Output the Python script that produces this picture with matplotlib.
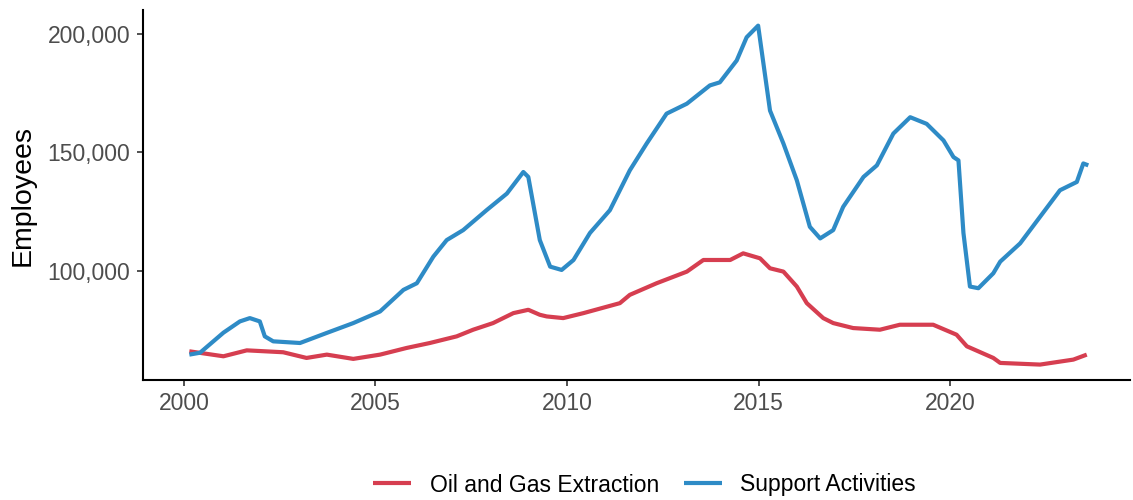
import matplotlib.pyplot as plt
from matplotlib.ticker import FuncFormatter

# values
support_years = [2000.14, 2000.42, 2001.03, 2001.46, 2001.72, 2001.98, 2002.11, 2002.33,
                 2003.03, 2003.72, 2004.42, 2005.12, 2005.73, 2006.08, 2006.51, 2006.86,
                 2007.29, 2007.90, 2008.43, 2008.86, 2008.99, 2009.29, 2009.56, 2009.86,
                 2010.17, 2010.60, 2011.12, 2011.64, 2012.08, 2012.60, 2013.13, 2013.73,
                 2013.99, 2014.43, 2014.69, 2014.99, 2015.30, 2015.65, 2016.00, 2016.34,
                 2016.61, 2016.95, 2017.21, 2017.74, 2018.09, 2018.52, 2018.96, 2019.39,
                 2019.83, 2020.09, 2020.22, 2020.35, 2020.52, 2020.74, 2021.13, 2021.31,
                 2021.83, 2022.35, 2022.87, 2023.31, 2023.48, 2023.61]
support_jobs = [64700, 65500, 73950, 78700, 80100, 78700, 72400, 70300,
                69600, 73800, 78000, 82900, 92000, 94800, 106000, 113000,
                117200, 125600, 132600, 141700, 139600, 113000, 101800, 100400,
                104600, 116000, 125600, 142400, 153700, 166300, 170500, 178200,
                179500, 188700, 198500, 203400, 167600, 153700, 138200, 118600,
                113700, 117200, 127000, 139600, 144500, 157900, 164800, 162000,
                155000, 148000, 146600, 116000, 93400, 92700, 99000, 103900,
                111600, 122800, 134000, 137500, 145300, 144500]

oil_years = [2000.14, 2001.03, 2001.64, 2002.59, 2003.20, 2003.73, 2004.42, 2005.12,
             2005.81, 2006.42, 2007.12, 2007.55, 2008.07, 2008.60, 2008.99, 2009.29,
             2009.47, 2009.90, 2010.43, 2011.38, 2011.64, 2012.34, 2013.13, 2013.56,
             2014.26, 2014.60, 2015.04, 2015.30, 2015.65, 2016.00, 2016.26, 2016.69,
             2016.95, 2017.47, 2018.17, 2018.69, 2019.56, 2020.17, 2020.44, 2021.13,
             2021.31, 2022.35, 2023.22, 2023.57]
oil_jobs = [66100, 64000, 66500, 65700, 63300, 64700, 62900, 64700,
            67500, 69600, 72400, 75200, 78000, 82200, 83600, 81500,
            80800, 80100, 82200, 86400, 89900, 94800, 99700, 104600,
            104600, 107400, 105300, 101100, 99700, 93400, 86400, 80100,
            78000, 75900, 75200, 77300, 77300, 73100, 68200, 63300,
            61200, 60500, 62600, 64700]

x_ticks = [2000, 2005, 2010, 2015, 2020]
y_ticks = [100000, 150000, 200000]

RED = "#d63e50"
BLUE = "#2e8bc6"

plt.rcParams["font.family"] = ["Liberation Sans", "DejaVu Sans"]

fig = plt.figure(figsize=(11.33, 5.0), dpi=100)
ax = fig.add_axes([0.1262, 0.24, 0.8712, 0.74])

ax.plot(oil_years, oil_jobs, color=RED, lw=3, label="Oil and Gas Extraction",
        solid_joinstyle="round", solid_capstyle="butt")
ax.plot(support_years, support_jobs, color=BLUE, lw=3, label="Support Activities",
        solid_joinstyle="round", solid_capstyle="butt")

ax.set_xlim(1998.93, 2024.7)
ax.set_ylim(54000, 210000)
ax.set_xticks(x_ticks)
ax.set_yticks(y_ticks)
ax.yaxis.set_major_formatter(FuncFormatter(lambda v, p: f"{int(v):,}"))

for side in ["top", "right"]:
    ax.spines[side].set_visible(False)
for side in ["left", "bottom"]:
    ax.spines[side].set_linewidth(1.5)
    ax.spines[side].set_color("black")

ax.tick_params(axis="both", length=4, width=1.2, color="#333333",
               labelsize=16.5, labelcolor="#4d4d4d", pad=5)
ax.set_ylabel("Employees", fontsize=20.5, color="black", labelpad=8.5)

fig.legend(loc="center", bbox_to_anchor=(0.569, 0.03), ncol=2, frameon=False,
           fontsize=16.5, handlelength=1.65, handletextpad=0.8, columnspacing=1.1)

fig.savefig("out.png", dpi=100, facecolor="white")
